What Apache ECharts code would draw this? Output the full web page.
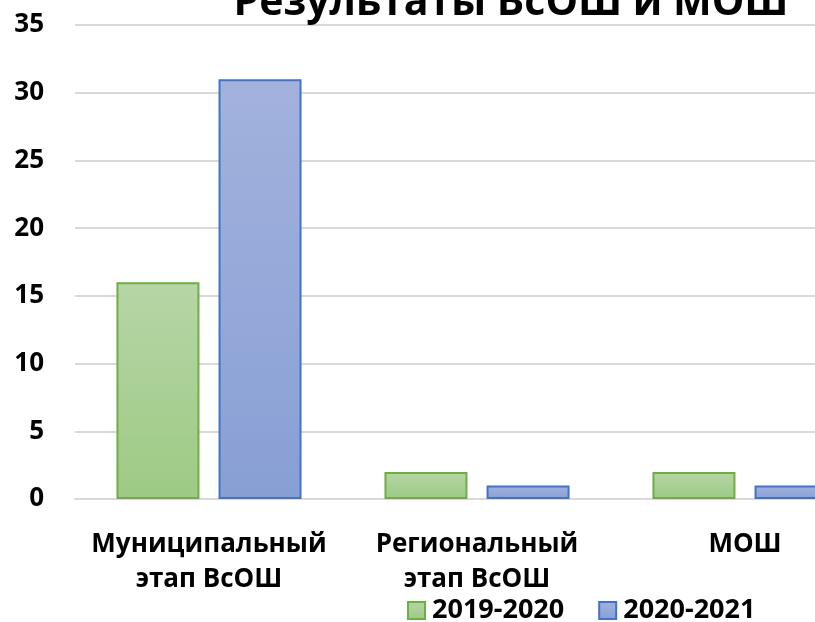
<!DOCTYPE html>
<html>
<head>
<meta charset="utf-8">
<script src="https://cdn.jsdelivr.net/npm/echarts@6/dist/echarts.min.js"></script>
<style>
  html, body { margin: 0; padding: 0; background: #fff; }
  #chart { width: 815px; height: 622px; }
</style>
</head>
<body>
<div id="chart"></div>
<script>
const categories = ['Муниципальный\nэтап ВсОШ', 'Региональный\nэтап ВсОШ', 'МОШ'];
const seriesNames = ['2019-2020', '2020-2021'];
const values2019 = [16, 2, 2];
const values2020 = [31, 1, 1];
const yTicks = { min: 0, max: 35, interval: 5 };

const fontFamily = '"Open Sans", "Noto Sans", sans-serif';

const grad = (top, bottom) => new echarts.graphic.LinearGradient(0, 0, 0, 1, [
  { offset: 0, color: top },
  { offset: 1, color: bottom },
]);

const chart = echarts.init(document.getElementById('chart'));
const option = {
  animation: false,
  title: {
    text: 'Результаты ВсОШ и МОШ',
    left: 506,
    textAlign: 'center',
    top: -22,
    textStyle: { fontFamily, fontSize: 41, fontWeight: 'bold', color: '#000' },
  },
  legend: {
    data: seriesNames,
    left: 402,
    top: 592,
    icon: 'rect',
    itemWidth: 17,
    itemHeight: 17,
    itemGap: 34,
    textStyle: { fontFamily, fontSize: 27, fontWeight: 'bold', color: '#000', padding: [0, 0, 0, 2] },
  },
  grid: {
    left: 75,
    width: 804,
    top: 25,
    bottom: 123,
    outerBoundsMode: 'none',
  },
  xAxis: {
    type: 'category',
    data: categories,
    axisLine: { lineStyle: { color: '#d9d9d9', width: 2 } },
    axisTick: { show: false },
    axisLabel: {
      interval: 0,
      margin: 28,
      fontFamily,
      fontSize: 26,
      fontWeight: 'bold',
      color: '#000',
      lineHeight: 35,
    },
  },
  yAxis: {
    type: 'value',
    min: yTicks.min,
    max: yTicks.max,
    interval: yTicks.interval,
    axisLine: { show: false },
    axisTick: { show: false },
    splitLine: { lineStyle: { color: '#d9d9d9', width: 2 } },
    axisLabel: {
      margin: 31,
      fontFamily,
      fontSize: 26,
      fontWeight: 'bold',
      color: '#000',
    },
  },
  series: [
    {
      name: seriesNames[0],
      type: 'bar',
      data: values2019,
      barWidth: 83,
      barGap: '23%',
      itemStyle: {
        color: grad('#b6d6a6', '#9dca84'),
        borderColor: '#70ad47',
        borderWidth: 2,
      },
    },
    {
      name: seriesNames[1],
      type: 'bar',
      data: values2020,
      barWidth: 83,
      itemStyle: {
        color: grad('#a3b2dd', '#889fd5'),
        borderColor: '#4472c4',
        borderWidth: 2,
      },
    },
  ],
};
chart.setOption(option);
</script>
</body>
</html>
